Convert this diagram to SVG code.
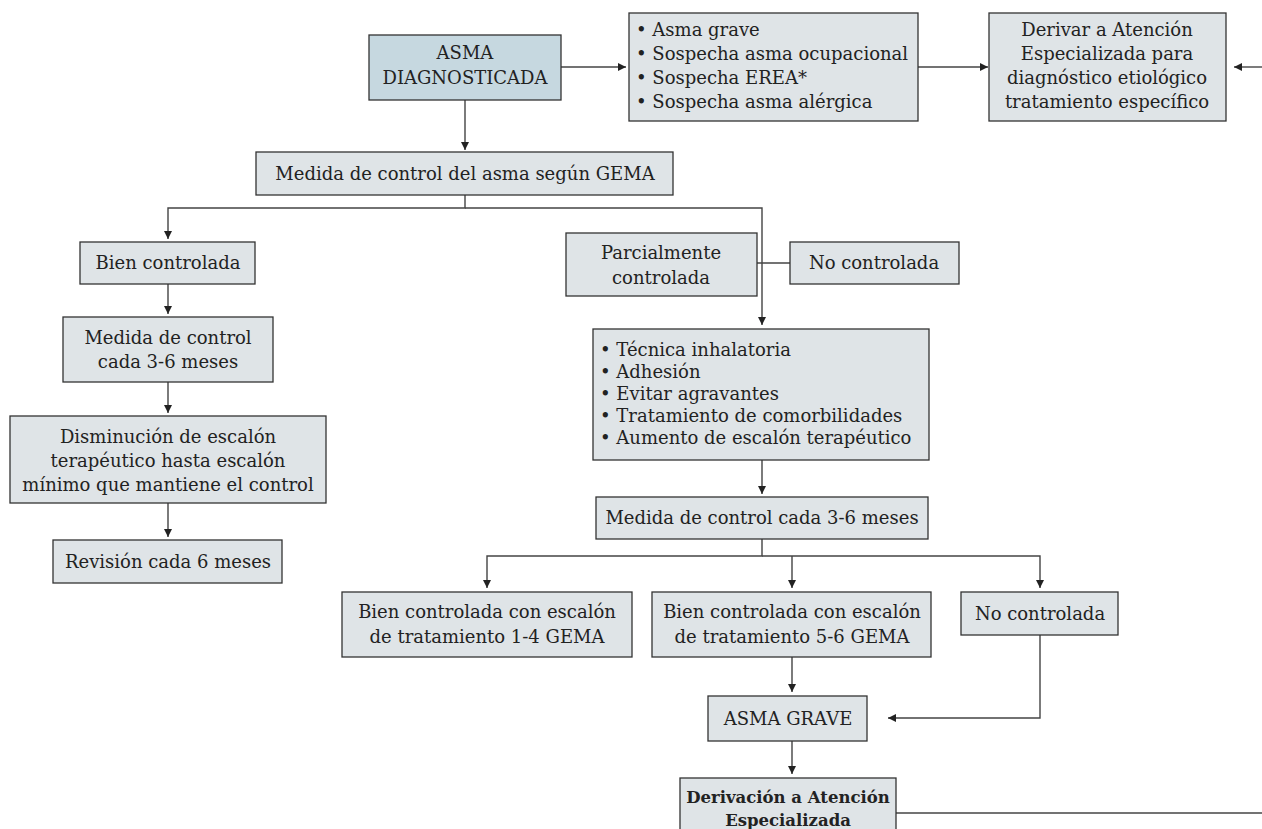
<svg xmlns="http://www.w3.org/2000/svg" width="1262" height="829" viewBox="0 0 1262 829">
<style>
.b{fill:#dfe4e7;stroke:#333;stroke-width:1.3}
.hb{fill:#c6d8e0;stroke:#333;stroke-width:1.3}
text{font-family:"DejaVu Serif","Liberation Serif",serif;font-size:18px;fill:#222}
.c{text-anchor:middle}
.bold{font-weight:bold;font-size:16.5px}
.ln{fill:none;stroke:#444;stroke-width:1.4}
</style>
<defs>
<marker id="ah" markerWidth="10" markerHeight="10" refX="8" refY="5" orient="auto" markerUnits="userSpaceOnUse">
<path d="M0,1 L8,5 L0,9 z" fill="#222"/>
</marker>
</defs>
<rect width="1262" height="829" fill="#fff"/>
<g id="connectors">
<path class="ln" d="M561,67 H626" marker-end="url(#ah)"/>
<path class="ln" d="M918,67 H988" marker-end="url(#ah)"/>
<path class="ln" d="M1262,67 H1234" marker-end="url(#ah)"/>
<path class="ln" d="M465,100 V150" marker-end="url(#ah)"/>
<path class="ln" d="M465,195 V208 H168 V239" marker-end="url(#ah)"/>
<path class="ln" d="M465,208 H762 V325" marker-end="url(#ah)"/>
<path class="ln" d="M757,263 H790"/>
<path class="ln" d="M168,284 V314" marker-end="url(#ah)"/>
<path class="ln" d="M168,382 V413" marker-end="url(#ah)"/>
<path class="ln" d="M168,503 V537" marker-end="url(#ah)"/>
<path class="ln" d="M762,460 V494" marker-end="url(#ah)"/>
<path class="ln" d="M762,539 V556 H487 V588" marker-end="url(#ah)"/>
<path class="ln" d="M762,556 H1040 V588" marker-end="url(#ah)"/>
<path class="ln" d="M792,556 V588" marker-end="url(#ah)"/>
<path class="ln" d="M1040,635 V718 H888" marker-end="url(#ah)"/>
<path class="ln" d="M792,657 V692" marker-end="url(#ah)"/>
<path class="ln" d="M792,741 V774" marker-end="url(#ah)"/>
<path class="ln" d="M896,813 H1262"/>
</g>
<g id="asma-diagnosticada">
<rect class="hb" x="369" y="35" width="192" height="65"/>
<text class="c" x="465" y="59">ASMA</text>
<text class="c" x="465" y="84">DIAGNOSTICADA</text>
</g>
<g id="criterios">
<rect class="b" x="629" y="13" width="289" height="108"/>
<text x="636" y="36">• Asma grave</text>
<text x="636" y="60">• Sospecha asma ocupacional</text>
<text x="636" y="84">• Sospecha EREA*</text>
<text x="636" y="108">• Sospecha asma alérgica</text>
</g>
<g id="derivar-ae">
<rect class="b" x="989" y="13" width="237" height="108"/>
<text class="c" x="1107" y="36">Derivar a Atención</text>
<text class="c" x="1107" y="60">Especializada para</text>
<text class="c" x="1107" y="84">diagnóstico etiológico</text>
<text class="c" x="1107" y="108">tratamiento específico</text>
</g>
<g id="medida-gema">
<rect class="b" x="256" y="152" width="417" height="43"/>
<text class="c" x="465" y="180">Medida de control del asma según GEMA</text>
</g>
<g id="bien-controlada">
<rect class="b" x="80" y="242" width="175" height="42"/>
<text class="c" x="168" y="269">Bien controlada</text>
</g>
<g id="medida-3-6-izq">
<rect class="b" x="63" y="317" width="210" height="65"/>
<text class="c" x="168" y="344">Medida de control</text>
<text class="c" x="168" y="368">cada 3-6 meses</text>
</g>
<g id="disminucion">
<rect class="b" x="10" y="416" width="316" height="87"/>
<text class="c" x="168" y="443">Disminución de escalón</text>
<text class="c" x="168" y="467">terapéutico hasta escalón</text>
<text class="c" x="168" y="491">mínimo que mantiene el control</text>
</g>
<g id="revision">
<rect class="b" x="53" y="540" width="229" height="43"/>
<text class="c" x="168" y="568">Revisión cada 6 meses</text>
</g>
<g id="parcialmente">
<rect class="b" x="566" y="233" width="191" height="63"/>
<text class="c" x="661" y="259">Parcialmente</text>
<text class="c" x="661" y="284">controlada</text>
</g>
<g id="no-controlada-1">
<rect class="b" x="790" y="242" width="169" height="42"/>
<text class="c" x="874" y="269">No controlada</text>
</g>
<g id="medidas">
<rect class="b" x="593" y="329" width="336" height="131"/>
<text x="600" y="356">• Técnica inhalatoria</text>
<text x="600" y="378">• Adhesión</text>
<text x="600" y="400">• Evitar agravantes</text>
<text x="600" y="422">• Tratamiento de comorbilidades</text>
<text x="600" y="444">• Aumento de escalón terapéutico</text>
</g>
<g id="medida-3-6-der">
<rect class="b" x="596" y="497" width="332" height="42"/>
<text class="c" x="762" y="524">Medida de control cada 3-6 meses</text>
</g>
<g id="bien-1-4">
<rect class="b" x="342" y="592" width="290" height="65"/>
<text class="c" x="487" y="618">Bien controlada con escalón</text>
<text class="c" x="487" y="643">de tratamiento 1-4 GEMA</text>
</g>
<g id="bien-5-6">
<rect class="b" x="652" y="592" width="279" height="65"/>
<text class="c" x="792" y="618">Bien controlada con escalón</text>
<text class="c" x="792" y="643">de tratamiento 5-6 GEMA</text>
</g>
<g id="no-controlada-2">
<rect class="b" x="961" y="592" width="157" height="43"/>
<text class="c" x="1040" y="620">No controlada</text>
</g>
<g id="asma-grave">
<rect class="b" x="708" y="696" width="159" height="45"/>
<text class="c" x="788" y="725">ASMA GRAVE</text>
</g>
<g id="derivacion-ae">
<rect class="b" x="680" y="778" width="216" height="60"/>
<text class="c bold" x="788" y="803">Derivación a Atención</text>
<text class="c bold" x="788" y="826">Especializada</text>
</g>
</svg>
